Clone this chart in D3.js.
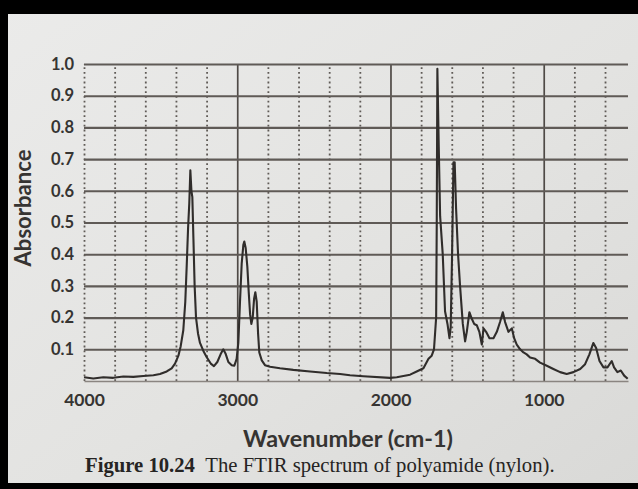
<!DOCTYPE html>
<html>
<head>
<meta charset="utf-8">
<script src="https://cdn.jsdelivr.net/npm/d3@7/dist/d3.min.js"></script>
<style>
  html, body { margin: 0; padding: 0; background: #000; }
  svg { display: block; }
</style>
</head>
<body>
<svg id="chart" width="638" height="489"></svg>
<script>
// ---------- data ----------
const xTickValues = [4000, 3000, 2000, 1000];
const xMajorGrid = [3000, 2000, 1000];
const xMinorGrid = [4000, 3800, 3600, 3400, 3200, 2800, 2600, 2400, 2200, 1800, 1600, 1400, 1200, 800, 600];
const yTickValues = [0.1, 0.2, 0.3, 0.4, 0.5, 0.6, 0.7, 0.8, 0.9, 1.0];

const wavenumber = [
  4000, 3939, 3874, 3809, 3743, 3678, 3613, 3547, 3504, 3460, 3428, 3406, 3384, 3369, 3352, 3339,
  3330, 3321, 3313, 3306, 3299, 3293, 3286, 3278, 3269, 3256, 3243, 3221, 3199, 3173, 3152, 3130,
  3108, 3091, 3075, 3058, 3036, 3019, 3004, 2993, 2982, 2971, 2960, 2954, 2945, 2934, 2925, 2916,
  2908, 2899, 2890, 2882, 2873, 2864, 2856, 2840, 2819, 2786, 2721, 2634, 2525, 2416, 2329, 2264,
  2177, 2003, 1959, 1872, 1829, 1785, 1752, 1731, 1716, 1702, 1698, 1694, 1685, 1676, 1659, 1644,
  1628, 1615, 1607, 1598, 1589, 1581, 1572, 1559, 1546, 1528, 1513, 1502, 1485, 1470, 1454, 1437,
  1420, 1404, 1393, 1376, 1354, 1328, 1306, 1285, 1267, 1252, 1230, 1208, 1193, 1176, 1154, 1132,
  1111, 1089, 1056, 1024, 980, 937, 893, 850, 806, 762, 730, 702, 676, 658, 636, 610,
  584, 556, 541, 519, 497, 475, 452
];
const absorbance = [
  0.012, 0.008, 0.012, 0.010, 0.014, 0.013, 0.016, 0.018, 0.022, 0.030, 0.040, 0.055, 0.080, 0.110, 0.160, 0.250,
  0.360, 0.480, 0.560, 0.665, 0.600, 0.580, 0.450, 0.300, 0.200, 0.150, 0.120, 0.095, 0.075, 0.055, 0.047, 0.060,
  0.085, 0.100, 0.085, 0.060, 0.050, 0.048, 0.070, 0.120, 0.250, 0.370, 0.430, 0.440, 0.420, 0.360, 0.280, 0.210,
  0.180, 0.200, 0.260, 0.280, 0.250, 0.150, 0.090, 0.065, 0.050, 0.045, 0.040, 0.035, 0.030, 0.025, 0.022, 0.018,
  0.015, 0.010, 0.012, 0.020, 0.030, 0.040, 0.070, 0.080, 0.100, 0.200, 0.500, 0.985, 0.740, 0.520, 0.400, 0.220,
  0.180, 0.135, 0.170, 0.400, 0.690, 0.690, 0.545, 0.400, 0.300, 0.180, 0.125, 0.155, 0.217, 0.197, 0.180, 0.176,
  0.155, 0.115, 0.166, 0.155, 0.135, 0.135, 0.155, 0.186, 0.217, 0.186, 0.155, 0.166, 0.135, 0.115, 0.100, 0.090,
  0.084, 0.074, 0.070, 0.058, 0.048, 0.038, 0.028, 0.022, 0.028, 0.038, 0.053, 0.084, 0.120, 0.104, 0.063, 0.043,
  0.043, 0.063, 0.043, 0.028, 0.033, 0.017, 0.007
];

const xTitle = "Wavenumber (cm-1)";
const yTitle = "Absorbance";
const captionBold = "Figure 10.24";
const captionText = "The FTIR spectrum of polyamide (nylon).";

// ---------- layout ----------
const W = 638, H = 489;
const svg = d3.select("#chart");

const defs = svg.append("defs");
const grad = defs.append("linearGradient").attr("id", "paper")
  .attr("x1", "0").attr("y1", "0").attr("x2", "1").attr("y2", "1");
grad.append("stop").attr("offset", "0%").attr("stop-color", "#ebebea");
grad.append("stop").attr("offset", "55%").attr("stop-color", "#e3e3e1");
grad.append("stop").attr("offset", "100%").attr("stop-color", "#d9d9d7");

svg.append("rect").attr("width", W).attr("height", H).attr("fill", "url(#paper)");
// photo frame edges
svg.append("rect").attr("x", 0).attr("y", 0).attr("width", W).attr("height", 14).attr("fill", "#000");
svg.append("rect").attr("x", 0).attr("y", 0).attr("width", 8).attr("height", H).attr("fill", "#000");
svg.append("rect").attr("x", 0).attr("y", 483).attr("width", W).attr("height", H - 483).attr("fill", "#000");

const x = d3.scaleLinear().domain([4000, 450]).range([84, 628]);
const y = d3.scaleLinear().domain([0, 1]).range([381, 64]);

const plotTop = y(1), plotBottom = y(0), plotH = plotBottom - plotTop;
const plotW = x.range()[1] - x.range()[0];

const gridColor = "#5f5a56";

// minor dotted vertical grid
svg.append("g")
  .attr("transform", `translate(0,${plotBottom})`)
  .call(d3.axisBottom(x).tickValues(xMinorGrid).tickSize(-plotH).tickFormat(""))
  .call(g => g.select(".domain").remove())
  .call(g => g.selectAll(".tick line")
    .attr("stroke", "#5f5a56").attr("stroke-width", 1.8)
    .attr("stroke-dasharray", "1.8,3"));

// major solid vertical grid
svg.append("g")
  .attr("transform", `translate(0,${plotBottom})`)
  .call(d3.axisBottom(x).tickValues(xMajorGrid).tickSize(-plotH).tickFormat(""))
  .call(g => g.select(".domain").remove())
  .call(g => g.selectAll(".tick line").attr("stroke", "#4f4a46").attr("stroke-width", 1.7));

// horizontal grid
svg.append("g")
  .attr("transform", `translate(${x.range()[0]},0)`)
  .call(d3.axisLeft(y).tickValues(yTickValues).tickSize(-plotW).tickFormat(""))
  .call(g => g.select(".domain").remove())
  .call(g => g.selectAll(".tick line").attr("stroke", gridColor).attr("stroke-width", 2.1));

// bottom baseline
svg.append("g")
  .attr("transform", `translate(0,${plotBottom})`)
  .call(d3.axisBottom(x).tickValues([]).tickSizeOuter(0))
  .call(g => g.select(".domain").attr("stroke", "#8a8581").attr("stroke-width", 1.4));

// spectrum
const series = wavenumber.map((w, i) => ({ w, a: absorbance[i] }));
svg.append("path")
  .datum(series)
  .attr("fill", "none")
  .attr("stroke", "#302d2b")
  .attr("stroke-width", 2.1)
  .attr("stroke-linejoin", "round")
  .attr("d", d3.line().x(d => x(d.w)).y(d => y(d.a)));

const sans = "Lato, 'Open Sans', 'DejaVu Sans', sans-serif";
const textColor = "#363432";

// y tick labels
svg.append("g")
  .attr("transform", `translate(${x.range()[0]},0)`)
  .call(d3.axisLeft(y).tickValues(yTickValues).tickSize(0).tickPadding(10).tickFormat(d3.format(".1f")))
  .call(g => g.select(".domain").remove())
  .call(g => g.selectAll("text")
    .attr("font-family", sans).attr("font-weight", "bold")
    .attr("font-size", 16.5).attr("fill", textColor));

// x tick labels
svg.append("g")
  .attr("transform", `translate(0,${plotBottom})`)
  .call(d3.axisBottom(x).tickValues(xTickValues).tickSize(0).tickPadding(13).tickFormat(d3.format("d")))
  .call(g => g.select(".domain").remove())
  .call(g => g.selectAll("text")
    .attr("font-family", sans).attr("font-weight", "bold")
    .attr("font-size", 17.5).attr("fill", textColor));

function fit(sel, target) {
  const fs = +sel.attr("font-size");
  const len = sel.node().getComputedTextLength();
  if (len > 0) sel.attr("font-size", fs * target / len);
}

// axis titles
const xt = svg.append("text")
  .attr("x", 348).attr("y", 447)
  .attr("text-anchor", "middle")
  .attr("font-family", sans).attr("font-weight", "bold")
  .attr("font-size", 20).attr("fill", textColor)
  .text(xTitle);
fit(xt, 210);

const yt = svg.append("text")
  .attr("transform", "translate(31,208) rotate(-90)")
  .attr("text-anchor", "middle")
  .attr("font-family", sans).attr("font-weight", "bold")
  .attr("font-size", 20).attr("fill", textColor)
  .text(yTitle);
fit(yt, 117);

// caption
const cap = svg.append("text")
  .attr("x", 85).attr("y", 472)
  .attr("font-family", "'Liberation Serif', 'Times New Roman', serif")
  .attr("font-size", 18).attr("fill", "#262423");
cap.append("tspan").attr("font-weight", "bold").text(captionBold);
cap.append("tspan").attr("xml:space", "preserve").text("\u00a0\u00a0" + captionText);
fit(cap, 470);
</script>
</body>
</html>
